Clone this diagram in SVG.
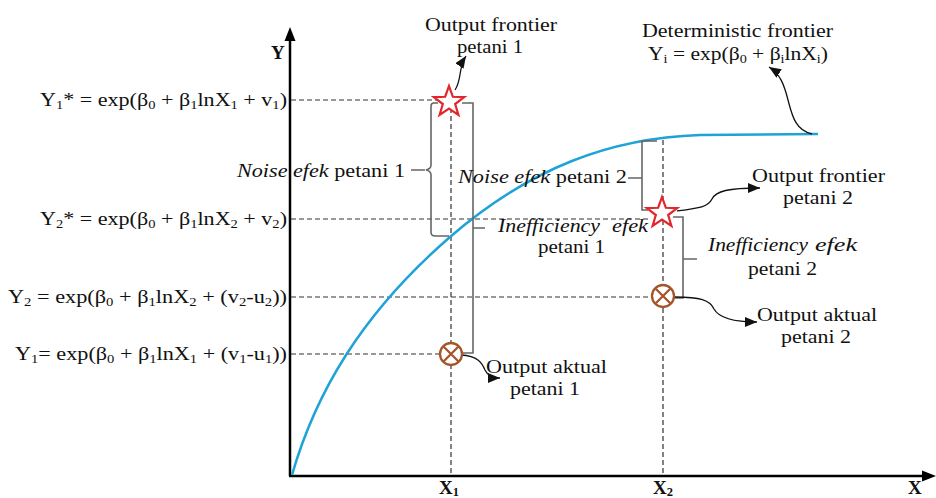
<svg xmlns="http://www.w3.org/2000/svg" xmlns:xlink="http://www.w3.org/1999/xlink" width="936" height="498" viewBox="0 0 936 498">
<style>
  text { font-family: "Liberation Serif", "Times New Roman", serif; font-size: 19px; fill: #111; }
  .sub { font-size: 12.5px; }
  .it { font-style: italic; }
  .bold { font-weight: bold; }
  .dash { stroke: #333; stroke-width: 1.2; stroke-dasharray: 5 3; fill: none; }
  .brace { stroke: #666; stroke-width: 1.6; fill: none; }
  .arrow { stroke: #111; stroke-width: 1.3; fill: none; marker-end: url(#ah); }
  .axis { stroke: #000; stroke-width: 2.5; fill: none; }
  .frontier { stroke: #1fa3d6; stroke-width: 2.5; fill: none; }
</style>
<defs>
  <marker id="ah" markerUnits="userSpaceOnUse" markerWidth="13" markerHeight="10" refX="12" refY="5" orient="auto">
    <path d="M0,0 L12,5 L0,10 z" fill="#111"/>
  </marker>
  <polygon id="star" points="0,-16 3.82,-5.26 15.22,-4.94 6.18,2.01 9.4,12.94 0,6.5 -9.4,12.94 -6.18,2.01 -15.22,-4.94 -3.82,-5.26" fill="#fff" stroke="#e3262b" stroke-width="2.2" stroke-linejoin="miter"/>
  <g id="otimes">
    <circle r="11" fill="#fff" stroke="#a5552a" stroke-width="2.3"/>
    <path d="M-7.5,-7.5 L7.5,7.5 M-7.5,7.5 L7.5,-7.5" stroke="#a5552a" stroke-width="2.3"/>
  </g>
</defs>

<g id="axes">
  <line class="axis" x1="290" y1="476" x2="290" y2="38"/>
  <polygon points="290,27 284.5,41 295.5,41" fill="#000"/>
  <line class="axis" x1="289" y1="476" x2="924" y2="476"/>
  <polygon points="936,476 922,470.5 922,481.5" fill="#000"/>
  <text class="bold" x="271" y="59">Y</text>
  <text class="bold" x="908" y="494">X</text>
  <text class="bold" x="439" y="494">X<tspan class="sub" dy="1.5">1</tspan></text>
  <text class="bold" x="653" y="494">X<tspan class="sub" dy="1.5">2</tspan></text>
</g>

<g id="guides">
  <line class="dash" x1="291" y1="100" x2="440" y2="100"/>
  <line class="dash" x1="291" y1="219" x2="648" y2="219"/>
  <line class="dash" x1="291" y1="297" x2="652" y2="297"/>
  <line class="dash" x1="291" y1="354" x2="440" y2="354"/>
  <line class="dash" x1="451" y1="100" x2="451" y2="476"/>
  <line class="dash" x1="663" y1="140" x2="663" y2="476"/>
</g>

<g id="frontier-curve">
  <path class="frontier" d="M 292 475 C 315 395 360 315 450 237 C 530 168 610 138 700 135 L 818 134"/>
</g>

<g id="connectors">
  <path class="brace" d="M 438 103 L 434 103 Q 431 103 431 106 L 431 165 Q 431 169 426 170 Q 431 171 431 175 L 431 232 Q 431 236 435 236 L 449 236 M 425 170 L 411 170"/>
  <path class="brace" d="M 462 103 L 473 103 L 473 353 L 462 353 M 473 228 L 485 228"/>
  <path class="brace" d="M 657 141 L 642 141 L 642 210 L 648 210 M 642 178 L 628 178"/>
  <path class="brace" d="M 673 217 L 683 217 L 683 298 L 674 298 M 683 259 L 697 259"/>
  <path class="arrow" d="M 455 90 C 462 80 458 68 466 56"/>
  <path class="arrow" d="M 812 134 C 795 130 792 115 788 100 C 784 84 780 74 769 67"/>
  <path class="arrow" d="M 677 211 C 700 208 708 207 712 199 C 716 191 728 188 760 188"/>
  <path class="arrow" d="M 675 297 C 700 297 710 300 714 309 C 719 318 735 322 757 322"/>
  <path class="arrow" d="M 461 355 C 478 356 482 363 485 370 C 488 376 492 378 500 378"/>
</g>

<g id="point-frontier-1"><use xlink:href="#star" href="#star" x="449" y="102"/></g>
<g id="point-frontier-2"><use xlink:href="#star" href="#star" x="662" y="213"/></g>
<g id="point-actual-1"><use xlink:href="#otimes" href="#otimes" x="451" y="354"/></g>
<g id="point-actual-2"><use xlink:href="#otimes" href="#otimes" x="663" y="296"/></g>

<g id="label-y1star">
  <text x="40" y="106" textLength="247" lengthAdjust="spacingAndGlyphs">Y<tspan class="sub" dy="3">1</tspan><tspan dy="-3">* = exp(β</tspan><tspan class="sub" dy="3">0</tspan><tspan dy="-3"> + β</tspan><tspan class="sub" dy="3">1</tspan><tspan dy="-3">lnX</tspan><tspan class="sub" dy="3">1</tspan><tspan dy="-3"> + v</tspan><tspan class="sub" dy="3">1</tspan><tspan dy="-3">)</tspan></text>
</g>
<g id="label-y2star">
  <text x="40" y="225" textLength="247" lengthAdjust="spacingAndGlyphs">Y<tspan class="sub" dy="3">2</tspan><tspan dy="-3">* = exp(β</tspan><tspan class="sub" dy="3">0</tspan><tspan dy="-3"> + β</tspan><tspan class="sub" dy="3">1</tspan><tspan dy="-3">lnX</tspan><tspan class="sub" dy="3">2</tspan><tspan dy="-3"> + v</tspan><tspan class="sub" dy="3">2</tspan><tspan dy="-3">)</tspan></text>
</g>
<g id="label-y2">
  <text x="8" y="303" textLength="279" lengthAdjust="spacingAndGlyphs">Y<tspan class="sub" dy="3">2</tspan><tspan dy="-3"> = exp(β</tspan><tspan class="sub" dy="3">0</tspan><tspan dy="-3"> + β</tspan><tspan class="sub" dy="3">1</tspan><tspan dy="-3">lnX</tspan><tspan class="sub" dy="3">2</tspan><tspan dy="-3"> + (v</tspan><tspan class="sub" dy="3">2</tspan><tspan dy="-3">-u</tspan><tspan class="sub" dy="3">2</tspan><tspan dy="-3">))</tspan></text>
</g>
<g id="label-y1">
  <text x="15" y="360" textLength="272" lengthAdjust="spacingAndGlyphs">Y<tspan class="sub" dy="3">1</tspan><tspan dy="-3">= exp(β</tspan><tspan class="sub" dy="3">0</tspan><tspan dy="-3"> + β</tspan><tspan class="sub" dy="3">1</tspan><tspan dy="-3">lnX</tspan><tspan class="sub" dy="3">1</tspan><tspan dy="-3"> + (v</tspan><tspan class="sub" dy="3">1</tspan><tspan dy="-3">-u</tspan><tspan class="sub" dy="3">1</tspan><tspan dy="-3">))</tspan></text>
</g>

<g id="label-noise-1">
  <text x="237" y="177" textLength="168" lengthAdjust="spacingAndGlyphs"><tspan class="it">Noise efek</tspan> petani 1</text>
</g>
<g id="label-noise-2">
  <text x="458" y="183" textLength="169" lengthAdjust="spacingAndGlyphs"><tspan class="it">Noise efek</tspan> petani 2</text>
</g>
<g id="label-ineff-1">
  <text class="it" x="498" y="232" textLength="102" lengthAdjust="spacingAndGlyphs">Inefficiency</text>
  <text class="it" x="612" y="232" textLength="36" lengthAdjust="spacingAndGlyphs">efek</text>
  <text x="538" y="253" textLength="67" lengthAdjust="spacingAndGlyphs">petani 1</text>
</g>
<g id="label-ineff-2">
  <text class="it" x="708" y="251" textLength="100" lengthAdjust="spacingAndGlyphs">Inefficiency</text>
  <text class="it" x="815" y="251" textLength="42" lengthAdjust="spacingAndGlyphs">efek</text>
  <text x="748" y="275" textLength="69" lengthAdjust="spacingAndGlyphs">petani 2</text>
</g>
<g id="label-output-frontier-1">
  <text x="425" y="31" textLength="132" lengthAdjust="spacingAndGlyphs">Output frontier</text>
  <text x="457" y="53" textLength="66" lengthAdjust="spacingAndGlyphs">petani 1</text>
</g>
<g id="label-deterministic">
  <text x="642" y="37" textLength="191" lengthAdjust="spacingAndGlyphs">Deterministic frontier</text>
  <text x="648" y="60" textLength="180" lengthAdjust="spacingAndGlyphs">Y<tspan class="sub" dy="3">i</tspan><tspan dy="-3"> = exp(β</tspan><tspan class="sub" dy="3">0</tspan><tspan dy="-3"> + β</tspan><tspan class="sub" dy="3">i</tspan><tspan dy="-3">lnX</tspan><tspan class="sub" dy="3">i</tspan><tspan dy="-3">)</tspan></text>
</g>
<g id="label-output-frontier-2">
  <text x="752" y="182" textLength="133" lengthAdjust="spacingAndGlyphs">Output frontier</text>
  <text x="783" y="204" textLength="70" lengthAdjust="spacingAndGlyphs">petani 2</text>
</g>
<g id="label-output-aktual-2">
  <text x="757" y="321" textLength="120" lengthAdjust="spacingAndGlyphs">Output aktual</text>
  <text x="781" y="343" textLength="70" lengthAdjust="spacingAndGlyphs">petani 2</text>
</g>
<g id="label-output-aktual-1">
  <text x="486" y="373" textLength="121" lengthAdjust="spacingAndGlyphs">Output aktual</text>
  <text x="510" y="395" textLength="70" lengthAdjust="spacingAndGlyphs">petani 1</text>
</g>
</svg>
